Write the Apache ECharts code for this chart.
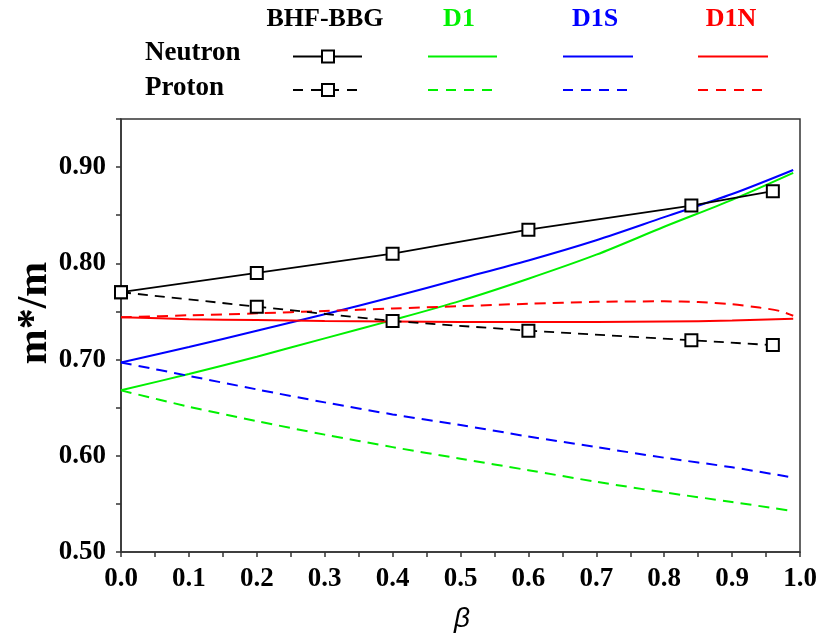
<!DOCTYPE html>
<html>
<head>
<meta charset="utf-8">
<script src="https://cdn.jsdelivr.net/npm/echarts@6/dist/echarts.min.js"></script>
<style>
html,body{margin:0;padding:0;background:#fff;}
#chart{width:820px;height:639px;}
</style>
</head>
<body>
<div id="chart"></div>
<script>
// ---- data ----
const betaBHF = [0, 0.2, 0.4, 0.6, 0.84, 0.96];
const bhfNeutron = [0.770, 0.790, 0.810, 0.835, 0.860, 0.875];
const bhfProton  = [0.770, 0.755, 0.740, 0.730, 0.720, 0.715];

const betaN = [0, 0.1, 0.2, 0.3, 0.4, 0.5, 0.6, 0.7, 0.8, 0.9, 0.99];
const betaP = [0, 0.1, 0.2, 0.3, 0.4, 0.5, 0.6, 0.7, 0.8, 0.9, 0.985];
const d1Neutron  = [0.668, 0.685, 0.703, 0.722, 0.741, 0.761, 0.784, 0.809, 0.838, 0.866, 0.894];
const d1Proton   = [0.668, 0.651, 0.636, 0.622, 0.609, 0.597, 0.585, 0.573, 0.562, 0.552, 0.543];
const d1sNeutron = [0.697, 0.713, 0.730, 0.747, 0.765, 0.784, 0.803, 0.824, 0.848, 0.872, 0.897];
const d1sProton  = [0.697, 0.683, 0.669, 0.6555, 0.643, 0.632, 0.620, 0.609, 0.598, 0.588, 0.578];
const d1nNeutron = [0.744, 0.742, 0.741, 0.740, 0.7395, 0.739, 0.739, 0.739, 0.7395, 0.7405, 0.7425];
const betaD1NP   = [0, 0.1, 0.2, 0.3, 0.4, 0.5, 0.6, 0.7, 0.8, 0.85, 0.9, 0.94, 0.97, 0.99];
const d1nProton  = [0.744, 0.746, 0.748, 0.7505, 0.753, 0.7555, 0.758, 0.760, 0.7605, 0.7598, 0.7575, 0.754, 0.7505, 0.7455];

const xTicks = [0, 1, 0.1];
const yTicks = [0.5, 0.95, 0.1];

const colHeads = ['BHF-BBG', 'D1', 'D1S', 'D1N'];
const rowHeads = ['Neutron', 'Proton'];

// ---- styling ----
const GREEN = '#00f000', BLUE = '#0000ff', RED = '#ff0000', BLACK = '#000000';
const SERIF = '"Liberation Serif", "Times New Roman", serif';
const DASH = [11, 7];

function zip(xs, ys) { return xs.map((x, i) => [x, ys[i]]); }

function theory(name, xs, ys, color, dashed) {
  return {
    name: name, type: 'line', data: zip(xs, ys), symbol: 'none', smooth: 0.3,
    lineStyle: { color: color, width: 2, type: dashed ? DASH : 'solid' },
    z: 2
  };
}
function bhf(name, xs, ys, dashed) {
  return {
    name: name, type: 'line', data: zip(xs, ys), symbol: 'rect', symbolSize: 12,
    itemStyle: { color: '#ffffff', borderColor: BLACK, borderWidth: 2 },
    lineStyle: { color: BLACK, width: 1.8, type: dashed ? [10, 7] : 'solid' },
    z: 5
  };
}

const series = [
  theory('D1 Neutron', betaN, d1Neutron, GREEN, false),
  theory('D1 Proton', betaP, d1Proton, GREEN, true),
  theory('D1S Neutron', betaN, d1sNeutron, BLUE, false),
  theory('D1S Proton', betaP, d1sProton, BLUE, true),
  theory('D1N Neutron', betaN, d1nNeutron, RED, false),
  theory('D1N Proton', betaD1NP, d1nProton, RED, true),
  bhf('BHF-BBG Neutron', betaBHF, bhfNeutron, false),
  bhf('BHF-BBG Proton', betaBHF, bhfProton, true)
];

// ---- legend table (graphic) ----
const colX = [325, 459, 595, 731];
const colColors = [BLACK, GREEN, BLUE, RED];
const lineX = [[293, 362], [428, 497], [563, 633], [698, 768]];
const rowY = [56.5, 90];
const graphic = [];
colHeads.forEach((t, i) => graphic.push({
  type: 'text', x: colX[i], y: 19,
  style: { text: t, fill: colColors[i], font: 'bold 26px ' + SERIF, textAlign: 'center', textVerticalAlign: 'middle' }
}));
rowHeads.forEach((t, j) => graphic.push({
  type: 'text', x: 145, y: [53, 88][j],
  style: { text: t, fill: BLACK, font: 'bold 27px ' + SERIF, textAlign: 'left', textVerticalAlign: 'middle' }
}));
for (let i = 0; i < 4; i++) {
  for (let j = 0; j < 2; j++) {
    graphic.push({
      type: 'line', shape: { x1: lineX[i][0], y1: rowY[j], x2: lineX[i][1], y2: rowY[j] },
      style: { stroke: colColors[i], lineWidth: 2, lineDash: j === 1 ? [10, 8] : null }
    });
  }
}
rowY.forEach(y => graphic.push({
  type: 'rect', shape: { x: 322, y: y - 6, width: 12, height: 12 },
  style: { fill: '#fff', stroke: BLACK, lineWidth: 2 }, z: 10
}));
// axis titles
graphic.push({
  type: 'text', x: 35, y: 313, rotation: Math.PI / 2,
  style: { text: 'm*/m', fill: BLACK, font: 'bold 42px ' + SERIF, textAlign: 'center', textVerticalAlign: 'middle' }
});
graphic.push({
  type: 'text', x: 462, y: 619,
  style: { text: 'β', fill: BLACK, font: 'italic 28px "Liberation Sans", Arial, sans-serif', textAlign: 'center', textVerticalAlign: 'middle' }
});

const axisCommon = {
  axisLine: { show: true, onZero: false, lineStyle: { color: '#333', width: 1.5 } },
  axisTick: { show: true, inside: false, length: 5, lineStyle: { color: '#333', width: 1.5 } },
  minorTick: { show: true, splitNumber: 2, length: 5, lineStyle: { color: '#333', width: 1.5 } },
  splitLine: { show: false },
  axisLabel: { color: BLACK, fontFamily: SERIF, fontWeight: 'bold', fontSize: 27 }
};

const option = {
  animation: false,
  backgroundColor: '#ffffff',
  grid: { left: 121, right: 20, top: 119, bottom: 87, show: true, borderColor: '#333', borderWidth: 1.5, backgroundColor: 'transparent' },
  xAxis: Object.assign({}, axisCommon, {
    type: 'value', min: xTicks[0], max: xTicks[1], interval: xTicks[2],
    axisLabel: Object.assign({}, axisCommon.axisLabel, { margin: 14, formatter: v => v.toFixed(1) })
  }),
  yAxis: Object.assign({}, axisCommon, {
    type: 'value', min: yTicks[0], max: yTicks[1], interval: yTicks[2],
    axisLabel: Object.assign({}, axisCommon.axisLabel, { margin: 15, formatter: v => (Math.abs(v - 0.95) < 1e-6 ? '' : v.toFixed(2)) })
  }),
  graphic: graphic,
  series: series
};

const chart = echarts.init(document.getElementById('chart'), null, { renderer: 'canvas' });
chart.setOption(option);
</script>
</body>
</html>
